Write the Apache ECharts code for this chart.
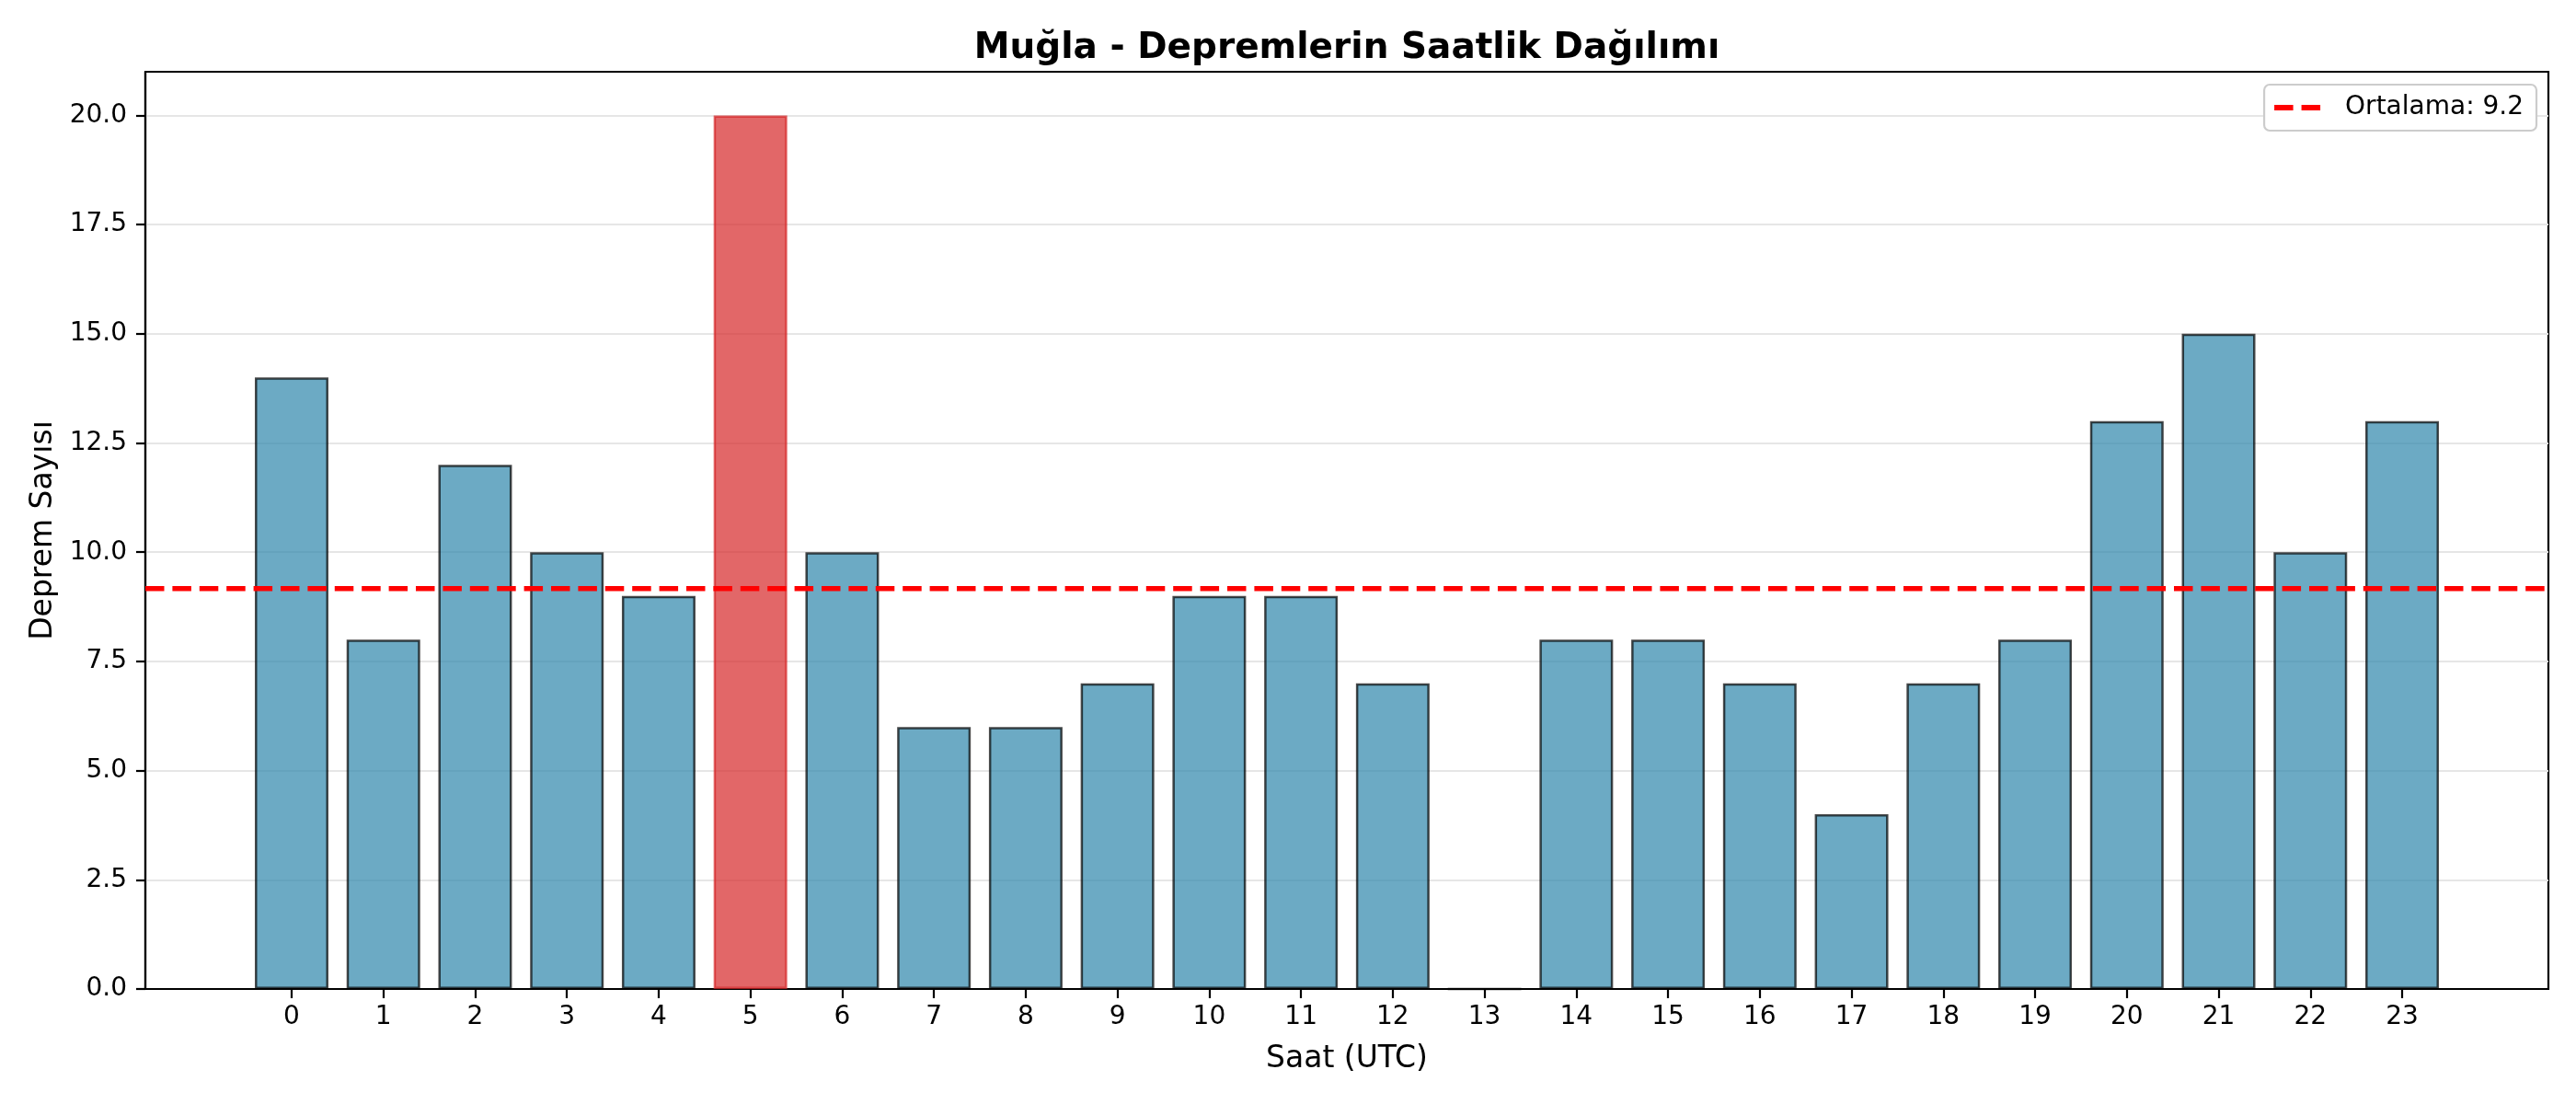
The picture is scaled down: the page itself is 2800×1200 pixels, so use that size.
<!DOCTYPE html>
<html>
<head>
<meta charset="utf-8">
<script src="https://cdn.jsdelivr.net/npm/echarts@6/dist/echarts.min.js"></script>
<style>
  html, body { margin: 0; padding: 0; background: #fff; }
  #chart { width: 2800px; height: 1200px; }
</style>
</head>
<body>
<div id="chart"></div>
<script>
// veriler
var hours = [0, 1, 2, 3, 4, 5, 6, 7, 8, 9, 10, 11, 12, 13, 14, 15, 16, 17, 18, 19, 20, 21, 22, 23];
var counts = [14, 8, 12, 10, 9, 20, 10, 6, 6, 7, 9, 9, 7, 0, 8, 8, 7, 4, 7, 8, 13, 15, 10, 13];
var yTicks = [0, 2.5, 5, 7.5, 10, 12.5, 15, 17.5, 20];
var xLimits = [-1.594, 24.594];
var yLimits = [0, 21];

var font = 'DejaVu Sans';
var mean = counts.reduce(function (a, b) { return a + b; }, 0) / counts.length;
var maxVal = Math.max.apply(null, counts);
var meanName = 'Ortalama: ' + mean.toFixed(1);

var barData = hours.map(function (h, i) {
    var isMax = counts[i] === maxVal;
    return {
        value: [h, counts[i]],
        itemStyle: isMax
            ? { color: 'rgba(214,39,40,0.7)', borderColor: 'rgba(214,39,40,0.7)' }
            : { color: 'rgba(46,134,171,0.7)', borderColor: 'rgba(0,0,0,0.7)' }
    };
});

var chart = echarts.init(document.getElementById('chart'), null, { renderer: 'canvas' });

var option = {
    backgroundColor: '#fff',
    animation: false,
    title: {
        text: 'Muğla - Depremlerin Saatlik Dağılımı',
        left: 1464,
        top: 33,
        padding: 0,
        textAlign: 'center',
        textStyle: { fontFamily: font, fontSize: 39, fontWeight: 'bold', color: '#000' }
    },
    legend: {
        right: 43,
        top: 92,
        padding: [11, 14, 11, 11],
        backgroundColor: '#fff',
        borderColor: '#cccccc',
        borderWidth: 2.2,
        borderRadius: 6,
        itemWidth: 50,
        itemHeight: 6,
        // kesikli çizgi simgesi
        icon: 'path://M0,0h20.5v6h-20.5z M29.5,0h20.5v6h-20.5z',
        textStyle: { fontFamily: font, fontSize: 28, color: '#000', padding: [3, 0, 0, 22] },
        data: [{ name: meanName, itemStyle: { color: '#ff0000' } }]
    },
    grid: {
        left: 158,
        right: 30,
        top: 78,
        bottom: 125,
        show: true,
        borderColor: '#000',
        borderWidth: 2.2,
        backgroundColor: 'transparent'
    },
    xAxis: {
        type: 'value',
        min: xLimits[0],
        max: xLimits[1],
        name: 'Saat (UTC)',
        nameLocation: 'middle',
        nameGap: 60,
        nameTextStyle: { fontFamily: font, fontSize: 33, color: '#000' },
        axisLine: { show: true, onZero: false, lineStyle: { color: '#000', width: 2.2 } },
        axisTick: { show: true, inside: false, length: 10, lineStyle: { color: '#000', width: 2.2 }, customValues: hours },
        axisLabel: { margin: 17, fontFamily: font, fontSize: 28, color: '#000', customValues: hours },
        splitLine: { show: false }
    },
    yAxis: {
        type: 'value',
        min: yLimits[0],
        max: yLimits[1],
        name: 'Deprem Sayısı',
        nameLocation: 'middle',
        nameGap: 94,
        nameRotate: 90,
        nameTextStyle: { fontFamily: font, fontSize: 33, color: '#000' },
        axisLine: { show: true, onZero: false, lineStyle: { color: '#000', width: 2.2 } },
        axisTick: { show: true, inside: false, length: 10, lineStyle: { color: '#000', width: 2.2 }, customValues: yTicks },
        axisLabel: {
            margin: 20, fontFamily: font, fontSize: 28, color: '#000', customValues: yTicks,
            formatter: function (v) { return v.toFixed(1); }
        },
        splitLine: { show: true, lineStyle: { color: '#e6e6e6', width: 2.2 } }
    },
    series: [
        {
            name: 'Saatlik',
            type: 'bar',
            barWidth: 80,
            data: barData,
            itemStyle: { borderWidth: 2.5 },
            z: 2
        },
        {
            name: meanName,
            type: 'line',
            symbol: 'none',
            data: [[xLimits[0], mean], [xLimits[1], mean]],
            lineStyle: { color: '#ff0000', width: 5.6, type: [20.5, 8.9] },
            itemStyle: { color: '#ff0000' },
            z: 5
        }
    ]
};

chart.setOption(option);
</script>
</body>
</html>
